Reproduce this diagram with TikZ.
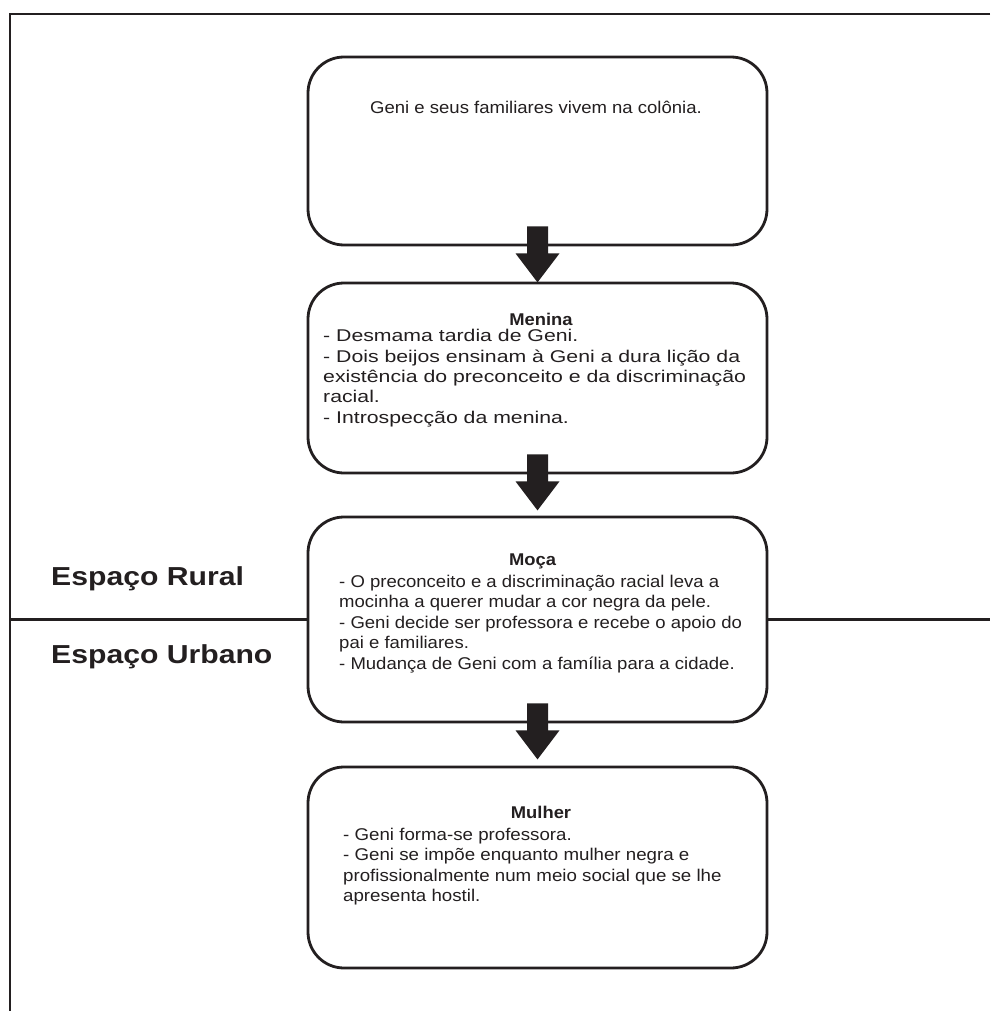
\documentclass[tikz,border=0pt]{standalone}
\usepackage{fontspec}
\setmainfont{Liberation Sans}
\newfontfamily\fbodyA[FakeStretch=1.09]{Liberation Sans}
\newfontfamily\fbodyB[FakeStretch=1.25]{Liberation Sans}
\newfontfamily\fbodyC[FakeStretch=1.10]{Liberation Sans}
\newfontfamily\ftitle[FakeStretch=1.08]{Liberation Sans Bold}
\newfontfamily\flabel[FakeStretch=1.16]{Liberation Sans Bold}
\usetikzlibrary{calc}
\definecolor{ink}{RGB}{35,31,32}
\newcommand\blockarrow[1]{%
  \fill[ink] ($(#1.south)+(-10.5,-20)$) -- ++(21,0) -- ++(0,27) -- ++(11.5,0)
    -- ++(-22,29) -- ++(-22,-29) -- ++(11.5,0) -- cycle;}
\begin{document}
\begin{tikzpicture}[x=1pt,y=-1pt,
  box/.style={draw=ink,line width=2.8pt,rounded corners=36pt,fill=white,
    minimum width=459pt,inner sep=0pt},
  frame/.style={draw=ink,line width=2.8pt},
  ttl/.style={font=\ftitle\fontsize{17}{20.5}\selectfont,inner sep=0pt,anchor=base,text=ink},
  bodyA/.style={font=\fbodyA\fontsize{17}{20.5}\selectfont,inner sep=0pt,align=left,text=ink},
  bodyB/.style={font=\fbodyB\fontsize{17}{20.4}\selectfont,inner sep=0pt,align=left,text=ink},
  bodyC/.style={font=\fbodyC\fontsize{17}{20.6}\selectfont,inner sep=0pt,align=left,text=ink},
  lbl/.style={font=\flabel\fontsize{26}{30}\selectfont,inner sep=0pt,anchor=base west,text=ink}]
\useasboundingbox (0,0) rectangle (990,1011);
\fill[white] (0,0) rectangle (990,1011);
\draw[frame] (990,14) -- (10,14) -- (10,1011);

\node[box,minimum height=188pt] (b1) at (537.5,151) {};
\node[box,minimum height=190pt] (b2) at (537.5,378) {};
\node[box,minimum height=205pt] (b3) at (537.5,619.5) {};
\node[box,minimum height=201pt] (b4) at (537.5,867.5) {};

\coordinate (fl) at (10,619.5);
\coordinate (fr) at (990,619.5);
\draw[frame] (fl) -- (b3.west);
\draw[frame] (b3.east) -- (fr);

\blockarrow{b1}
\blockarrow{b2}
\blockarrow{b3}

\node[bodyA,anchor=base] (t1) at (536,114) {Geni e seus familiares vivem na colônia.};

% multi-line nodes: base anchor = baseline of the last line
\node[ttl] (h2) at (541,325) {Menina};
\node[bodyB,anchor=base west] (m2) at (323,423.3) {- Desmama tardia de Geni.\\- Dois beijos ensinam à Geni a dura lição da\\existência do preconceito e da discriminação\\racial.\\- Introspecção da menina.};

\node[ttl] (h3) at (532.5,565) {Moça};
\node[bodyA,anchor=base west] (m3) at (339,669.3) {- O preconceito e a discriminação racial leva a\\mocinha a querer mudar a cor negra da pele.\\- Geni decide ser professora e recebe o apoio do\\pai e familiares.\\- Mudança de Geni com a família para a cidade.};

\node[ttl] (h4) at (541,818) {Mulher};
\node[bodyC,anchor=base west] (m4) at (343,901.8) {- Geni forma-se professora.\\- Geni se impõe enquanto mulher negra e\\profissionalmente num meio social que se lhe\\apresenta hostil.};

\node[lbl] (rural) at (51,585) {Espaço Rural};
\node[lbl] (urbano) at (51,663.3) {Espaço Urbano};
\end{tikzpicture}
\end{document}
